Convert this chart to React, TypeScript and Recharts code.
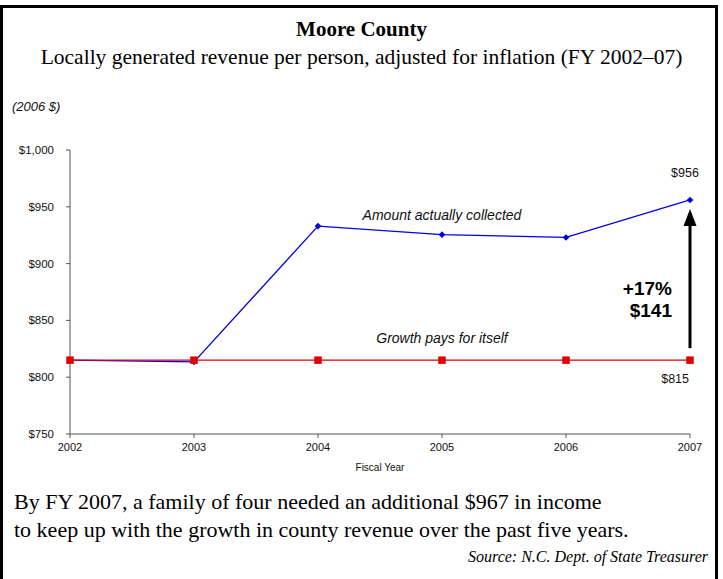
import React from 'react';
import {
  LineChart,
  Line,
  XAxis,
  YAxis,
  ReferenceLine,
  ReferenceDot,
  LabelList,
} from 'recharts';

// Values (2006 dollars)
const years = [2002, 2003, 2004, 2005, 2006, 2007];
const collected = [815, 813.5, 933, 925.5, 923, 956];
const growthPays = [815, 815, 815, 815, 815, 815];
const yTicks = [750, 800, 850, 900, 950, 1000];

const data = years.map((year, i) => ({
  year,
  collected: collected[i],
  growthPays: growthPays[i],
}));

const last = years.length - 1;
const endCollected = collected[last];
const endBase = growthPays[last];
const gain = Math.round(endCollected - endBase);
const gainPct = Math.round((gain / endBase) * 100);

const BLUE = '#0000e6';
const RED = '#e00000';
const SANS = '"Liberation Sans", Arial, sans-serif';
const SERIF = '"Liberation Serif", "Times New Roman", serif';

const renderDiamond = (props: any) => {
  const { cx, cy, index } = props;
  if (cx == null || cy == null) return <g key={`d-${index}`} />;
  const r = 3.3;
  return (
    <polygon
      key={`d-${index}`}
      points={`${cx},${cy - r} ${cx + r},${cy} ${cx},${cy + r} ${cx - r},${cy}`}
      fill={BLUE}
    />
  );
};

const renderSquare = (props: any) => {
  const { cx, cy, index } = props;
  if (cx == null || cy == null) return <g key={`s-${index}`} />;
  const s = 7.5;
  return <rect key={`s-${index}`} x={cx - s / 2} y={cy - s / 2} width={s} height={s} fill={RED} />;
};

const topLabel = (props: any) => {
  const { x, y, index, value } = props;
  if (index !== last) return null;
  return (
    <text x={x - 5} y={y - 23} textAnchor="middle" fontFamily={SANS} fontSize={12.5} fill="#111">
      ${Math.round(value)}
    </text>
  );
};

const bottomLabel = (props: any) => {
  const { x, y, index, value } = props;
  if (index !== last) return null;
  return (
    <text x={x - 1} y={y + 23} textAnchor="end" fontFamily={SANS} fontSize={12.5} fill="#111">
      ${Math.round(value)}
    </text>
  );
};

// arrow from the break-even value up to the collected value
const ArrowShape = (props: any) => {
  const { x1, y1, y2 } = props;
  const top = Math.min(y1, y2);
  const bottom = Math.max(y1, y2);
  const tip = top + 9;
  const base = tip + 17;
  return (
    <g>
      <line x1={x1} y1={bottom - 12} x2={x1} y2={base - 1} stroke="#000" strokeWidth={3} />
      <polygon points={`${x1},${tip} ${x1 + 6.5},${base} ${x1 - 6.5},${base}`} fill="#000" />
      <text x={x1 - 18} y={bottom - 65} textAnchor="end" fontFamily={SANS} fontWeight="bold" fontSize={19} fill="#000">
        +{gainPct}%
      </text>
      <text x={x1 - 18} y={bottom - 43} textAnchor="end" fontFamily={SANS} fontWeight="bold" fontSize={19} fill="#000">
        ${gain}
      </text>
    </g>
  );
};

const noteShape = (text: string, dy: number) => (props: any) => (
  <text
    x={props.cx}
    y={props.cy + dy}
    textAnchor="middle"
    fontFamily={SANS}
    fontStyle="italic"
    fontSize={14}
    fill="#111"
  >
    {text}
  </text>
);

const App: React.FC = () => {
  return (
    <div
      style={{
        position: 'absolute',
        left: 0,
        top: 0,
        width: 723,
        height: 579,
        overflow: 'hidden',
        background: '#fff',
      }}
    >
      {/* frame, open at the bottom */}
      <div
        style={{
          position: 'absolute',
          left: 0,
          top: 5,
          width: 718,
          height: 640,
          border: '3px solid #000',
          boxSizing: 'border-box',
        }}
      />

      <div
        style={{
          position: 'absolute',
          left: 0,
          top: 19,
          width: 723,
          textAlign: 'center',
          fontFamily: SERIF,
          fontWeight: 'bold',
          fontSize: 21,
          lineHeight: '21px',
          color: '#000',
        }}
      >
        Moore County
      </div>
      <div
        style={{
          position: 'absolute',
          left: 0,
          top: 47,
          width: 723,
          textAlign: 'center',
          fontFamily: SERIF,
          fontSize: 21.5,
          lineHeight: '21px',
          color: '#000',
        }}
      >
        Locally generated revenue per person, adjusted for inflation (FY 2002–07)
      </div>
      <div
        style={{
          position: 'absolute',
          left: 12,
          top: 100,
          fontFamily: SANS,
          fontStyle: 'italic',
          fontSize: 13,
          lineHeight: '13px',
          color: '#111',
        }}
      >
        (2006 $)
      </div>

      <div style={{ position: 'absolute', left: 0, top: 0 }}>
        <LineChart
          width={723}
          height={579}
          data={data}
          margin={{ top: 150, right: 33, bottom: 108, left: 10 }}
        >
          <XAxis
            dataKey="year"
            type="number"
            domain={[2002, 2007]}
            ticks={years}
            tickSize={4}
            tickMargin={5}
            stroke="#555"
            tick={{ fill: '#111', fontFamily: SANS, fontSize: 11 }}
            height={37}
            label={{
              value: 'Fiscal Year',
              position: 'insideBottom',
              offset: 0,
              fill: '#111',
              fontFamily: SANS,
              fontSize: 10,
            }}
          />
          <YAxis
            type="number"
            domain={[750, 1000]}
            ticks={yTicks}
            width={60}
            tickSize={4}
            tickMargin={12}
            stroke="#555"
            tick={{ fill: '#111', fontFamily: SANS, fontSize: 11.5 }}
            tickFormatter={(v: number) => `$${v.toLocaleString('en-US')}`}
          />
          <Line
            dataKey="collected"
            stroke={BLUE}
            strokeWidth={1.3}
            dot={renderDiamond}
            activeDot={false}
            isAnimationActive={false}
          >
            <LabelList dataKey="collected" content={topLabel} />
          </Line>
          <Line
            dataKey="growthPays"
            stroke={RED}
            strokeWidth={1.3}
            dot={renderSquare}
            activeDot={false}
            isAnimationActive={false}
          >
            <LabelList dataKey="growthPays" content={bottomLabel} />
          </Line>
          <ReferenceLine
            segment={[
              { x: years[last], y: endBase },
              { x: years[last], y: endCollected },
            ]}
            shape={ArrowShape}
          />
          <ReferenceDot
            x={2005}
            y={collected[3]}
            r={0}
            shape={noteShape('Amount actually collected', -15)}
          />
          <ReferenceDot
            x={2005}
            y={growthPays[3]}
            r={0}
            shape={noteShape('Growth pays for itself', -17)}
          />
        </LineChart>
      </div>

      <div
        style={{
          position: 'absolute',
          left: 14,
          top: 488,
          fontFamily: SERIF,
          fontSize: 22,
          lineHeight: '28px',
          color: '#000',
        }}
      >
        By FY 2007, a family of four needed an additional $967 in income
        <br />
        to keep up with the growth in county revenue over the past five years.
      </div>
      <div
        style={{
          position: 'absolute',
          right: 15,
          top: 549,
          fontFamily: SERIF,
          fontStyle: 'italic',
          fontSize: 16,
          lineHeight: '16px',
          color: '#000',
        }}
      >
        Source: N.C. Dept. of State Treasurer
      </div>
    </div>
  );
};

export default App;
